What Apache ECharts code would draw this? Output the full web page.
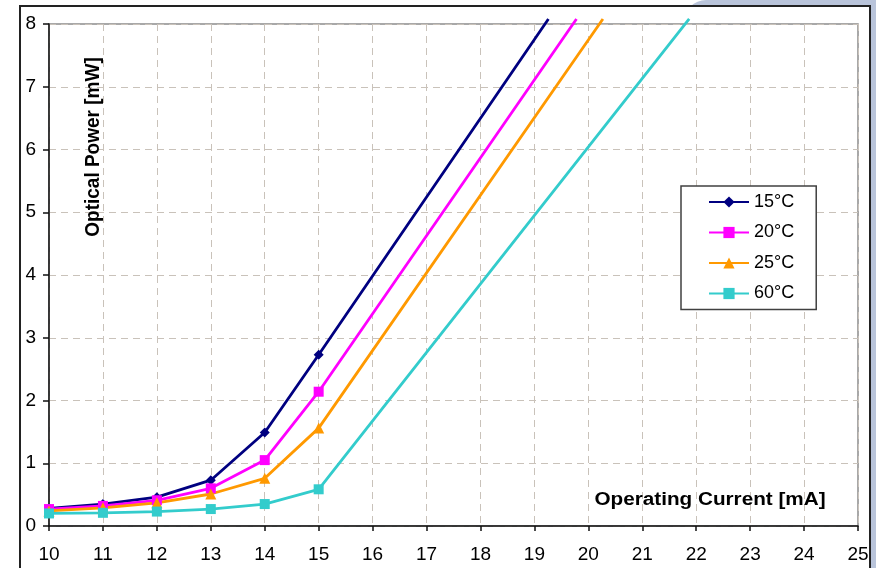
<!DOCTYPE html>
<html>
<head>
<meta charset="utf-8">
<script src="https://cdn.jsdelivr.net/npm/echarts@6/dist/echarts.min.js"></script>
<style>
  html, body { margin: 0; padding: 0; background: #ffffff; }
  #chart { width: 876px; height: 568px; }
</style>
</head>
<body>
<div id="chart"></div>
<script>
// Optical power vs. operating current at four temperatures.
// Measured points (10..15 mA) carry markers; the last point of each
// curve is the linear continuation up to the top of the range.
const currents = [10, 11, 12, 13, 14, 15];
const power15 = [0.28, 0.35, 0.46, 0.73, 1.49, 2.73];
const power20 = [0.27, 0.32, 0.41, 0.60, 1.05, 2.14];
const power25 = [0.24, 0.29, 0.37, 0.51, 0.76, 1.56];
const power60 = [0.20, 0.21, 0.23, 0.27, 0.35, 0.585];
const endCurrent = { t15: 19.26, t20: 19.78, t25: 20.27, t60: 21.87 };
const endPower = 8.08;

const seriesNames = ['15°C', '20°C', '25°C', '60°C'];
const xTicks = [10, 25, 1];
const yTicks = [0, 8, 1];

const FONT = '"Liberation Sans", Arial, sans-serif';

function buildData(values, lastX) {
  const pts = currents.map((c, i) => [c, values[i]]);
  pts.push({ value: [lastX, endPower], symbol: 'none' });
  return pts;
}

const chart = echarts.init(document.getElementById('chart'), null, { renderer: 'canvas' });

const lineSeries = (name, data, color, symbol, size) => ({
  name, type: 'line', data, clip: false,
  symbol, symbolSize: size, showSymbol: true,
  lineStyle: { color, width: 2.8 },
  itemStyle: { color, borderWidth: 0 },
  emphasis: { disabled: true },
  animation: false
});

chart.setOption({
  animation: false,
  backgroundColor: '#ffffff',
  graphic: [
    // slide backdrop at the top right and the chart frame
    { type: 'rect', z: -10, silent: true,
      shape: { x: 684, y: 0, width: 200, height: 580, r: [22, 0, 0, 0] },
      style: { fill: '#b9c4da' } },
    { type: 'rect', z: -9, silent: true,
      shape: { x: 20, y: 6, width: 850, height: 580 },
      style: { fill: '#ffffff', stroke: '#222222', lineWidth: 2 } },
    { type: 'text', z: 10, silent: true,
      x: 93, y: 147, rotation: Math.PI / 2, scaleY: 1.1,
      style: { text: 'Optical Power [mW]', font: 'bold 19px ' + FONT,
               fill: '#000000', align: 'center', verticalAlign: 'middle' } },
    { type: 'text', z: 10, silent: true,
      x: 710, y: 500, scaleX: 1.15,
      style: { text: 'Operating Current [mA]', font: 'bold 18px ' + FONT,
               fill: '#000000', align: 'center', verticalAlign: 'middle' } }
  ],
  grid: {
    left: 49, right: 18, top: 24, bottom: 42,
    show: true, borderColor: '#8c8c8c', borderWidth: 1.5,
    backgroundColor: 'transparent'
  },
  legend: {
    orient: 'vertical',
    left: 681, top: 186,
    padding: [7, 22, 7, 27],
    itemWidth: 40, itemHeight: 14, itemGap: 12.5,
    backgroundColor: '#ffffff',
    borderColor: '#404040', borderWidth: 1.5, borderRadius: 0,
    textStyle: { fontFamily: FONT, fontSize: 18, color: '#000000', lineHeight: 17 },
    data: seriesNames
  },
  xAxis: {
    type: 'value', min: xTicks[0], max: xTicks[1], interval: xTicks[2],
    axisLine: { show: true, onZero: false, lineStyle: { color: '#111111', width: 1.5 } },
    axisTick: { show: true, inside: false, length: 5, lineStyle: { color: '#111111', width: 1.5 } },
    axisLabel: { fontFamily: FONT, fontSize: 19, color: '#000000', margin: 19 },
    splitLine: { show: true, lineStyle: { color: '#c9c2ba', width: 1, type: [7, 5] } }
  },
  yAxis: {
    type: 'value', min: yTicks[0], max: yTicks[1], interval: yTicks[2],
    axisLine: { show: true, onZero: false, lineStyle: { color: '#111111', width: 1.5 } },
    axisTick: { show: true, inside: false, length: 6, lineStyle: { color: '#111111', width: 1.5 } },
    axisLabel: { fontFamily: FONT, fontSize: 19, color: '#000000', margin: 13 },
    splitLine: { show: true, lineStyle: { color: '#c9c2ba', width: 1, type: [7, 5] } }
  },
  series: [
    lineSeries(seriesNames[0], buildData(power15, endCurrent.t15), '#000080', 'diamond', 10),
    lineSeries(seriesNames[1], buildData(power20, endCurrent.t20), '#ff00ff', 'rect', 10),
    lineSeries(seriesNames[2], buildData(power25, endCurrent.t25), '#ff9900', 'triangle', 11),
    lineSeries(seriesNames[3], buildData(power60, endCurrent.t60), '#33cccc', 'rect', 10)
  ]
});
</script>
</body>
</html>
